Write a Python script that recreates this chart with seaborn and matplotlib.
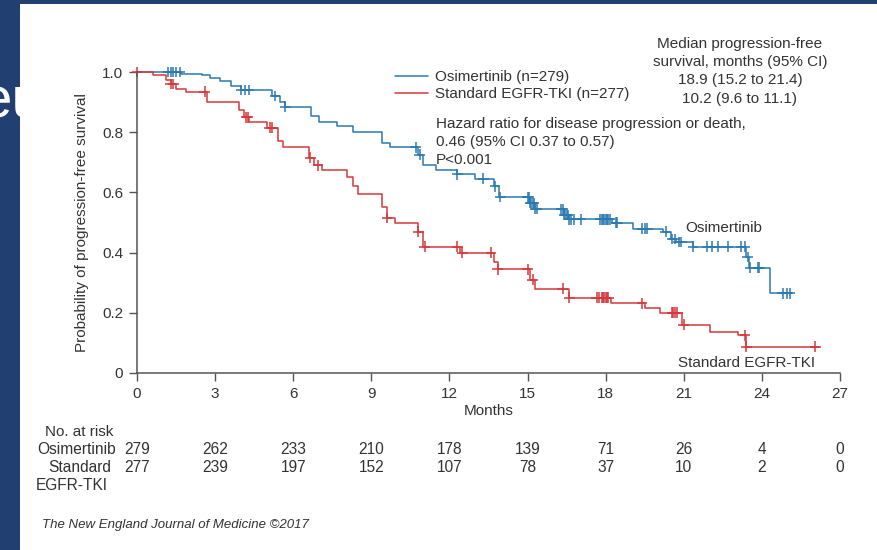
import numpy as np
import pandas as pd
import matplotlib
matplotlib.use("Agg")
import matplotlib.pyplot as plt
import matplotlib.transforms as mtransforms
from matplotlib.patches import Rectangle
from matplotlib.lines import Line2D
import seaborn as sns

# 1) Data
# Osimertinib step curve (months, probability)
osi_time = [0, 1.7, 2.5, 2.8, 3.2, 3.6, 4.0, 5.2, 5.5, 5.7, 6.7, 7.0, 7.7, 8.3, 9.4, 9.7,
            10.8, 11.0, 11.5, 12.3, 13.0, 13.7, 13.9, 15.1, 15.3, 16.4, 16.6, 18.25, 19.05,
            20.2, 20.5, 20.7, 21.35, 23.4, 23.5, 24.3]
osi_surv = [1.0, 0.995, 0.99, 0.98, 0.97, 0.955, 0.94, 0.92, 0.90, 0.885, 0.855, 0.835, 0.82,
            0.80, 0.765, 0.75, 0.725, 0.69, 0.675, 0.66, 0.645, 0.62, 0.585, 0.565, 0.545,
            0.525, 0.51, 0.50, 0.48, 0.47, 0.445, 0.435, 0.42, 0.385, 0.35, 0.265]
osi_end = 25.15
osi_cens = [1.2, 1.3, 1.4, 1.5, 1.65, 4.0, 4.15, 4.3, 5.3, 5.7, 10.7, 10.85, 12.3, 13.3, 13.75,
            13.95, 15.0, 15.05, 15.1, 15.15, 15.2, 15.25, 15.3, 15.35, 16.3, 16.35, 16.4,
            16.45, 16.5, 16.55, 16.6, 16.65, 16.8, 17.05, 17.8, 17.85, 17.9, 17.95, 18.0,
            18.05, 18.1, 18.15, 18.4, 18.45, 19.4, 19.5, 19.6, 20.3, 20.55, 20.65, 20.8, 20.9,
            21.35, 21.9, 22.1, 22.3, 22.7, 23.2, 23.35, 23.45, 23.55, 23.85, 23.9, 24.8,
            24.95, 25.08]

# Standard EGFR-TKI step curve
std_time = [0, 0.6, 1.1, 1.3, 1.5, 1.9, 2.7, 3.9, 4.1, 4.3, 5.0, 5.4, 5.6, 6.6, 6.8, 7.1,
            8.05, 8.3, 8.5, 9.4, 9.6, 9.9, 10.8, 11.0, 12.4, 13.7, 13.85, 15.1, 15.3, 16.6,
            18.2, 19.5, 20.1, 20.95, 22.0, 23.1, 23.4]
std_surv = [1.0, 0.99, 0.975, 0.96, 0.945, 0.935, 0.90, 0.875, 0.85, 0.835, 0.815, 0.77,
            0.75, 0.715, 0.69, 0.675, 0.65, 0.62, 0.595, 0.55, 0.515, 0.50, 0.47, 0.42, 0.40,
            0.37, 0.345, 0.31, 0.28, 0.25, 0.232, 0.215, 0.20, 0.16, 0.137, 0.125, 0.087]
std_end = 26.2
std_cens = [0, 1.3, 1.4, 2.6, 4.2, 4.25, 5.1, 5.2, 6.65, 6.95, 9.6, 10.8, 11.05, 12.3, 12.5,
            13.6, 13.85, 15.0, 15.2, 16.35, 16.6, 17.65, 17.75, 17.85, 17.9, 17.95, 18.0,
            18.05, 18.1, 19.4, 20.55, 20.6, 20.65, 20.75, 21.0, 23.35, 23.4, 26.05]

# Number at risk table
risk_months = [0, 3, 6, 9, 12, 15, 18, 21, 24, 27]
osi_risk = [279, 262, 233, 210, 178, 139, 71, 26, 4, 0]
std_risk = [277, 239, 197, 152, 107, 78, 37, 10, 2, 0]

arms = ["Osimertinib", "Standard EGFR-TKI"]
colors = {"Osimertinib": "#2a79b3", "Standard EGFR-TKI": "#d7373c"}
text_col = "#333333"
fs = 11


def surv_at(times, survs, t):
    idx = np.searchsorted(np.array(times), np.array(t), side="right") - 1
    return np.array(survs)[idx]


# 2) Build tidy frames for seaborn
curves = pd.concat([
    pd.DataFrame({"time": osi_time + [osi_end], "surv": osi_surv + [osi_surv[-1]], "arm": arms[0]}),
    pd.DataFrame({"time": std_time + [std_end], "surv": std_surv + [std_surv[-1]], "arm": arms[1]}),
], ignore_index=True)
cens = pd.concat([
    pd.DataFrame({"time": osi_cens, "surv": surv_at(osi_time, osi_surv, osi_cens), "arm": arms[0]}),
    pd.DataFrame({"time": std_cens, "surv": surv_at(std_time, std_surv, std_cens), "arm": arms[1]}),
], ignore_index=True)

# 3) Figure setup
sns.set_theme(style="white")
plt.rcParams["font.family"] = ["Liberation Sans", "DejaVu Sans"]

W, H = 877, 550


def px(x, y):
    return x / W, 1 - y / H


fig = plt.figure(figsize=(W / 100, H / 100), dpi=100, facecolor="#213f70")
# slide text peeking out from behind the white panel
fig.text(*px(-20, 118), "eu", color="white", fontsize=42, ha="left", va="baseline", zorder=0.1)
fig.patches.append(Rectangle(px(20, 550), 1, 1 - 4 / H, transform=fig.transFigure,
                             facecolor="white", edgecolor="none", zorder=0.5))

ax = fig.add_axes([137 / W, 1 - 373 / H, (840 - 137) / W, (373 - 72) / H])
ax.set_zorder(1)
ax.set_facecolor("none")

sns.lineplot(data=curves, x="time", y="surv", hue="arm", palette=colors, estimator=None,
             sort=False, drawstyle="steps-post", linewidth=1.1, legend=False, ax=ax, clip_on=False)
sns.scatterplot(data=cens, x="time", y="surv", hue="arm", palette=colors, marker="+", s=60,
                linewidth=1.1, legend=False, ax=ax, clip_on=False)

ax.set_xlim(0, 27)
ax.set_ylim(0, 1.0)
ax.set_xticks(risk_months)
ax.set_xticklabels([str(m) for m in risk_months])
ax.set_yticks([0, 0.2, 0.4, 0.6, 0.8, 1.0])
ax.set_yticklabels(["0", "0.2", "0.4", "0.6", "0.8", "1.0"])
for side in ["top", "right"]:
    ax.spines[side].set_visible(False)
for side in ["left", "bottom"]:
    ax.spines[side].set_color("#555555")
    ax.spines[side].set_linewidth(1.1)
ax.tick_params(direction="out", length=6, width=1.0, color="#555555", labelsize=fs,
               labelcolor=text_col, pad=4, left=True, bottom=True)
ax.set_xlabel("Months", fontsize=fs, color=text_col, labelpad=2)
ax.set_ylabel("Probability of progression-free survival", fontsize=fs, color=text_col)
ax.yaxis.set_label_coords((89 - 137) / (840 - 137), 0.5)

# 4) Legend and annotations
handles = [Line2D([], [], color=colors[a], linewidth=1.1) for a in arms]
ax.legend(handles, ["Osimertinib (n=279)", "Standard EGFR-TKI (n=277)"], loc="upper left",
          bbox_to_anchor=px(395, 70), bbox_transform=fig.transFigure, frameon=False,
          borderpad=0, borderaxespad=0, handlelength=2.15, handletextpad=0.5,
          labelspacing=0.22, fontsize=fs, labelcolor=text_col)

for y, s in zip([44, 62, 80, 99], ["Median progression-free", "survival, months (95% CI)",
                                    "18.9 (15.2 to 21.4)", "10.2 (9.6 to 11.1)"]):
    fig.text(*px(740, y), s, ha="center", va="center", fontsize=fs, color=text_col)
for y, s in zip([124, 142, 160], ["Hazard ratio for disease progression or death,",
                                  "0.46 (95% CI 0.37 to 0.57)", "P<0.001"]):
    fig.text(*px(436, y), s, ha="left", va="center", fontsize=fs, color=text_col)

fig.text(*px(685, 228), "Osimertinib", ha="left", va="center", fontsize=fs, color=text_col)
fig.text(*px(678, 363), "Standard EGFR-TKI", ha="left", va="center", fontsize=fs, color=text_col)

# 5) Number at risk table
tfs = 11.2
fig.text(*px(45, 432), "No. at risk", ha="left", va="center", fontsize=fs, color=text_col)
fig.text(*px(116, 450), "Osimertinib", ha="right", va="center", fontsize=tfs, color=text_col)
fig.text(*px(111, 467), "Standard", ha="right", va="center", fontsize=tfs, color=text_col)
fig.text(*px(108, 486), "EGFR-TKI", ha="right", va="center", fontsize=tfs, color=text_col)
blend = mtransforms.blended_transform_factory(ax.transData, fig.transFigure)
for m, a, b in zip(risk_months, osi_risk, std_risk):
    ax.text(m, 1 - 450 / H, str(a), transform=blend, ha="center", va="center",
            fontsize=tfs, color=text_col, clip_on=False)
    ax.text(m, 1 - 467 / H, str(b), transform=blend, ha="center", va="center",
            fontsize=tfs, color=text_col, clip_on=False)

fig.text(*px(42, 525), "The New England Journal of Medicine \u00a92017", ha="left", va="center",
         fontsize=9.5, style="italic", color=text_col)

fig.savefig("out.png", dpi=100, facecolor=fig.get_facecolor())
